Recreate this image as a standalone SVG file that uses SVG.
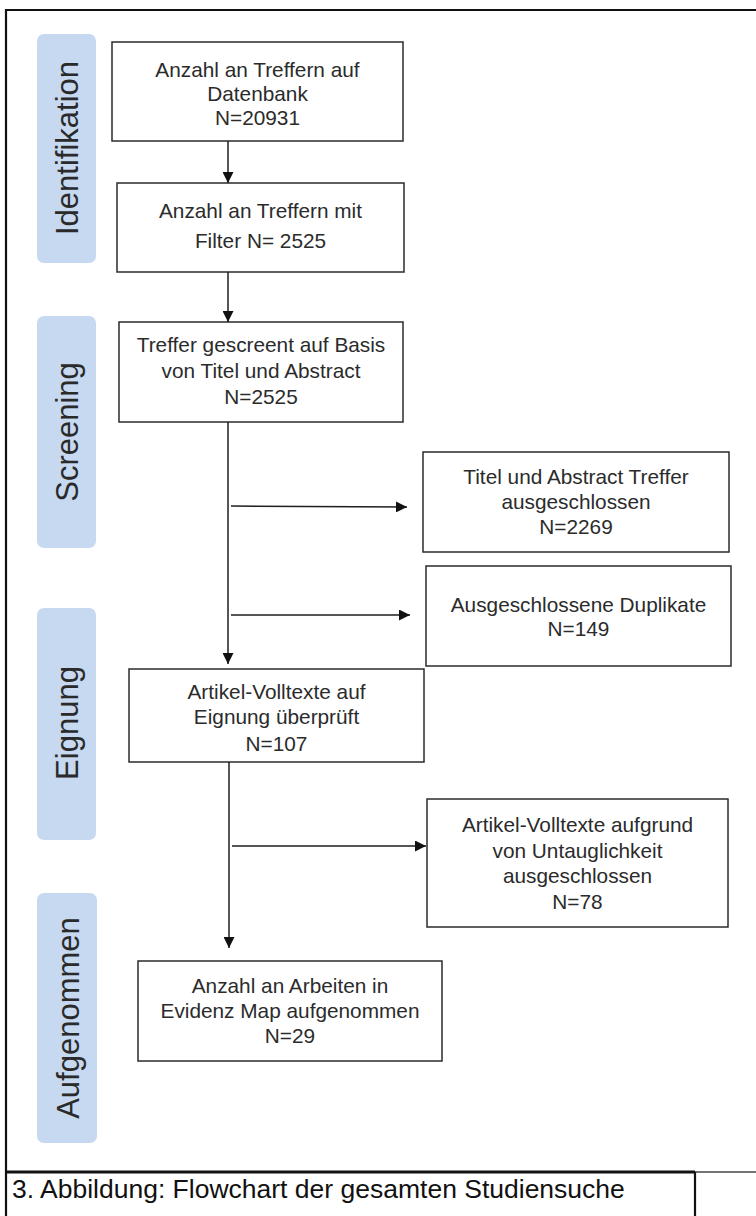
<svg xmlns="http://www.w3.org/2000/svg" width="756" height="1216" viewBox="0 0 756 1216">
  <style>
    .frame { fill: none; stroke: #111; stroke-width: 2.2; }
    .phase rect { fill: #c6d9f1; stroke: none; }
    .phase text { font-family: "Liberation Sans", Arial, sans-serif; font-size: 31px; fill: #2a2a2a; text-anchor: middle; }
    .box rect { fill: #fff; stroke: #2b2b2b; stroke-width: 1.5; }
    .box text { font-family: "Liberation Sans", Arial, sans-serif; font-size: 20.8px; fill: #2b2b2b; text-anchor: middle; }
    .conn line { stroke: #1e1e1e; stroke-width: 1.5; fill: none; marker-end: url(#arrow); }
    .caption { font-family: "Liberation Sans", Arial, sans-serif; font-size: 26.5px; fill: #111; }
  </style>
  <defs>
    <marker id="arrow" viewBox="0 0 10 10" refX="10" refY="5" markerWidth="11" markerHeight="11" markerUnits="userSpaceOnUse" orient="auto">
      <path d="M0,0 L10,5 L0,10 z" fill="#111"/>
    </marker>
  </defs>

  <rect width="756" height="1216" fill="#fff"/>

  <!-- outer frame and caption row -->
  <g id="frame">
    <line class="frame" x1="6" y1="10" x2="756" y2="10"/>
    <line class="frame" x1="6" y1="9" x2="6" y2="1216"/>
    <line class="frame" x1="6" y1="1172" x2="695" y2="1172" style="stroke-width:3"/>
    <line x1="695" y1="1172" x2="756" y2="1172" stroke="#444" stroke-width="1.5"/>
    <line class="frame" x1="695" y1="1172" x2="695" y2="1216"/>
    <text class="caption" x="12" y="1198">3. Abbildung: Flowchart der gesamten Studiensuche</text>
  </g>

  <!-- phase labels -->
  <g id="phase-identifikation" class="phase">
    <rect x="37" y="34" width="59" height="229" rx="7"/>
    <text transform="translate(77.5,148) rotate(-90)">Identifikation</text>
  </g>
  <g id="phase-screening" class="phase">
    <rect x="37" y="316" width="59" height="232" rx="7"/>
    <text transform="translate(77.5,432) rotate(-90)">Screening</text>
  </g>
  <g id="phase-eignung" class="phase">
    <rect x="37" y="608" width="59" height="232" rx="7"/>
    <text transform="translate(77.5,723) rotate(-90)">Eignung</text>
  </g>
  <g id="phase-aufgenommen" class="phase">
    <rect x="37" y="893" width="60" height="250" rx="7"/>
    <text transform="translate(78.5,1018) rotate(-90)">Aufgenommen</text>
  </g>

  <!-- process boxes -->
  <g id="n-datenbank" class="box">
    <rect x="112" y="42" width="291" height="99"/>
    <text x="257.5" y="77">Anzahl an Treffern auf</text>
    <text x="257.5" y="101">Datenbank</text>
    <text x="257.5" y="125">N=20931</text>
  </g>
  <g id="n-filter" class="box">
    <rect x="117" y="183" width="287" height="89"/>
    <text x="260.5" y="218">Anzahl an Treffern mit</text>
    <text x="260.5" y="248">Filter N= 2525</text>
  </g>
  <g id="n-screening" class="box">
    <rect x="119" y="322" width="284" height="100"/>
    <text x="261" y="352">Treffer gescreent auf Basis</text>
    <text x="261" y="378">von Titel und Abstract</text>
    <text x="261" y="404">N=2525</text>
  </g>
  <g id="n-ausgeschlossen-ta" class="box">
    <rect x="423" y="452" width="306" height="100"/>
    <text x="576" y="484">Titel und Abstract Treffer</text>
    <text x="576" y="509">ausgeschlossen</text>
    <text x="576" y="534">N=2269</text>
  </g>
  <g id="n-duplikate" class="box">
    <rect x="426" y="566" width="305" height="100"/>
    <text x="578.5" y="612">Ausgeschlossene Duplikate</text>
    <text x="578.5" y="636">N=149</text>
  </g>
  <g id="n-volltexte" class="box">
    <rect x="129" y="669" width="295" height="93"/>
    <text x="276.5" y="699">Artikel-Volltexte auf</text>
    <text x="276.5" y="724">Eignung überprüft</text>
    <text x="276.5" y="751">N=107</text>
  </g>
  <g id="n-untauglich" class="box">
    <rect x="427" y="799" width="301" height="128"/>
    <text x="577.5" y="832">Artikel-Volltexte aufgrund</text>
    <text x="577.5" y="858">von Untauglichkeit</text>
    <text x="577.5" y="883">ausgeschlossen</text>
    <text x="577.5" y="909">N=78</text>
  </g>
  <g id="n-aufgenommen" class="box">
    <rect x="138" y="961" width="304" height="100"/>
    <text x="290" y="993">Anzahl an Arbeiten in</text>
    <text x="290" y="1018">Evidenz Map aufgenommen</text>
    <text x="290" y="1043">N=29</text>
  </g>

  <!-- connectors -->
  <g id="connectors" class="conn">
    <line x1="228" y1="141" x2="228" y2="183"/>
    <line x1="228" y1="272" x2="228" y2="322"/>
    <line x1="228" y1="422" x2="228" y2="664"/>
    <line x1="229" y1="762" x2="229" y2="948"/>
    <line x1="231" y1="506" x2="407" y2="507"/>
    <line x1="231" y1="615" x2="410" y2="615"/>
    <line x1="232" y1="846" x2="426" y2="846"/>
  </g>
</svg>
